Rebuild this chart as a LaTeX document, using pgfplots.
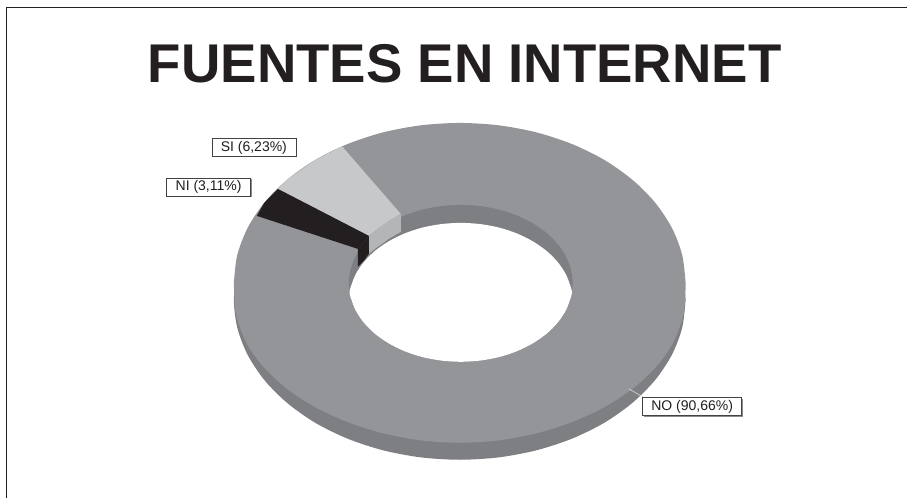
\documentclass[border=0pt]{standalone}
\usepackage{pgfplots}
\pgfplotsset{compat=1.18}
\usepackage{fontspec}
\setmainfont{Liberation Sans}
\definecolor{topno}{HTML}{949598}
\definecolor{wallno}{HTML}{7E7F82}
\definecolor{topsi}{HTML}{C7C8CA}
\definecolor{wallsi}{HTML}{B4B5B7}
\definecolor{blk}{HTML}{231F20}

% outer rim, top face (pixel coordinates of the reference)
\pgfplotstableread{
x y
686 283
682.6 255.2
672.4 228.3
655.7 203
633.1 180.2
605.3 160.4
573 144.4
537.3 132.6
499.2 125.4
460 123
420.8 125.4
382.7 132.6
347 144.4
314.7 160.4
286.9 180.2
264.3 203
247.6 228.3
237.4 255.2
234 283
234.2 292
236.2 315
246.5 343
263.5 367
286.5 388.5
314.7 407
347 422
382.7 433.4
420.8 440.6
460 443
499.2 440.6
537.3 433.4
573 422
605.3 407
633.5 388.5
656.5 367
673.5 343
683.8 315
685.8 292
686 283
}\rimtop
% outer rim, lower edge
\pgfplotstableread{
x y
686 300
682.6 272.2
672.4 245.3
655.7 220
633.1 197.2
605.3 177.4
573 161.4
537.3 149.6
499.2 142.4
460 140
420.8 142.4
382.7 149.6
347 161.4
314.7 177.4
286.9 197.2
264.3 220
247.6 245.3
237.4 272.2
234 300
237.4 327.8
247.6 354.7
264.3 380
286.9 402.8
314.7 422.6
347 438.6
382.7 450.4
420.8 457.6
460 460
499.2 457.6
537.3 450.4
573 438.6
605.3 422.6
633.1 402.8
655.7 380
672.4 354.7
682.6 327.8
686 300
}\rimlow
% hole, top face
\pgfplotstableread{
x y
573 283.5
571.3 269.8
566.3 256.7
558 244.2
546.8 233
533 223.4
517 215.5
499.3 209.7
480.5 206.2
461 205
441.5 206.2
422.7 209.7
405 215.5
389 223.4
375.2 233
364 244.2
355.7 256.7
350.7 269.8
349 283.5
350.7 297.2
355.7 310.3
364 322.8
375.2 334
389 343.6
405 351.5
422.7 357.3
441.5 360.8
461 362
480.5 360.8
499.3 357.3
517 351.5
533 343.6
546.8 334
558 322.8
566.3 310.3
571.3 297.2
573 283.5
}\holetop
% visible opening of the hole
\pgfplotstableread{
x y
572.3 292.5
571.3 287.8
566.3 274.7
558 262.2
546.8 251
533 241.4
517 233.5
499.3 227.7
480.5 224.2
461 223
441.5 224.2
422.7 227.7
405 233.5
389 241.4
375.2 251
364 262.2
355.7 274.7
350.7 287.8
349.7 292.5
350.7 297.2
355.7 310.3
364 322.8
375.2 334
389 343.6
405 351.5
422.7 357.3
441.5 360.8
461 362
480.5 360.8
499.3 357.3
517 351.5
533 343.6
546.8 334
558 322.8
566.3 310.3
571.3 297.2
572.3 292.5
}\opening

\begin{document}
\begin{tikzpicture}
\begin{axis}[
  scale only axis, width=907pt, height=498pt,
  xmin=0, xmax=907, ymin=0, ymax=498, y dir=reverse,
  hide axis, clip=false]

% keeps the page at the full size
\addplot[draw=none] coordinates {(0,0) (907,0) (907,498) (0,498)};

% frame
\addplot[color=blk, line width=1pt] coordinates {(6.5,498) (6.5,7.5) (907,7.5)};

% ring
\addplot[fill=wallno, draw=none, smooth] table {\rimlow};
\addplot[fill=topno, draw=none, smooth] table {\rimtop};

% SI
\addplot[fill=topsi, draw=none] coordinates {
  (342.3,146.4) (314.7,160.4) (286.9,180.2) (278,189) (369,236) (375.2,231) (389,221) (401,214)};
% NI
\addplot[fill=blk, draw=none] coordinates {
  (278,189) (264.3,203) (257,216) (358,249) (364,243) (369,236)};

% inner wall
\addplot[fill=wallno, draw=none, smooth] table {\holetop};
\addplot[fill=wallsi, draw=none] coordinates {
  (401,214) (389,221) (375.2,231) (369,236) (369,254) (375.2,249) (389,239) (401,232)};
\addplot[fill=blk, draw=none] coordinates {
  (369,236) (364,243) (358,249) (358,267) (364,261) (369,254)};
\addplot[fill=white, draw=none, smooth] table {\opening};

% leader
\addplot[color=white!85!black, line width=0.6pt] coordinates {(629,389) (643,397)};

\node[font=\fontsize{54.6}{60}\bfseries\selectfont, text=blk, anchor=base, inner sep=0pt]
  at (axis cs:465,83) {FUENTES EN INTERNET};

\tikzset{lbl/.style={draw=blk!85, fill=white, line width=0.6pt, inner sep=0pt,
  font=\fontsize{14}{16}\selectfont, text=blk, anchor=center, minimum height=18pt},
  shd/.style={fill=black!45, inner sep=0pt, anchor=center, minimum height=18pt}}
\node[shd, minimum width=84pt] at (axis cs:255,148.5) {};
\node[lbl, minimum width=84pt] at (axis cs:254,147.5) {SI (6,23\%)};
\node[shd, minimum width=84pt] at (axis cs:209.7,188) {};
\node[lbl, minimum width=84pt] at (axis cs:208.7,187) {NI (3,11\%)};
\node[shd, minimum width=99pt] at (axis cs:693.5,408) {};
\node[lbl, minimum width=99pt] at (axis cs:692.5,407) {NO (90,66\%)};
\end{axis}
\end{tikzpicture}
\end{document}
